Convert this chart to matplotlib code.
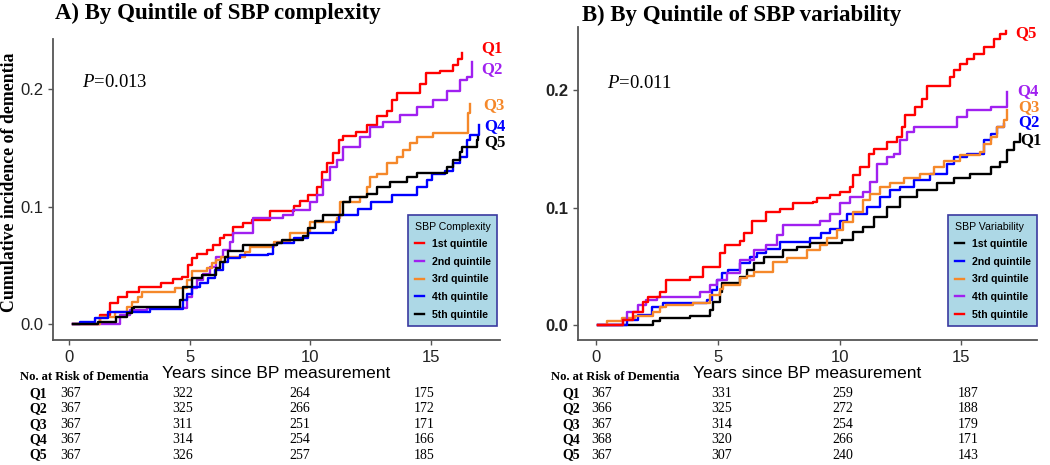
import matplotlib
matplotlib.use("Agg")
import matplotlib.pyplot as plt
import matplotlib.transforms as mtransforms

plt.rcParams["mathtext.fontset"] = "custom"
plt.rcParams["mathtext.rm"] = "Liberation Serif"
plt.rcParams["mathtext.it"] = "Liberation Serif:italic"

# ---- Panel A: quintiles of SBP complexity (cumulative incidence step curves)
a_q1_t = [0.15, 1.27, 1.68, 2.0, 2.4, 2.9, 3.8, 4.3, 4.65, 4.9, 5.1, 5.3, 5.7, 5.96, 6.25, 6.4, 6.8, 7.2, 7.56,
          8.3, 9.3, 9.56, 9.9, 10.25, 10.46, 10.67, 10.93, 11.2, 11.36, 11.9, 12.33, 12.75, 13.16, 13.4, 13.58,
          14.55, 14.8, 15.37, 15.9, 16.13, 16.27]
a_q1_y = [0, 0.008, 0.018, 0.023, 0.0275, 0.032, 0.035, 0.038, 0.040, 0.050, 0.056, 0.060, 0.063, 0.067, 0.073,
          0.076, 0.083, 0.086, 0.089, 0.096, 0.101, 0.105, 0.110, 0.117, 0.130, 0.137, 0.146, 0.157, 0.160, 0.164,
          0.170, 0.177, 0.182, 0.191, 0.197, 0.205, 0.214, 0.216, 0.221, 0.226, 0.231]
a_q2_t = [0.15, 2.1, 2.5, 3.2, 4.86, 5.07, 5.28, 5.55, 5.83, 6.1, 6.38, 6.66, 6.8, 7.63, 8.87, 9.29, 9.98, 10.26,
          10.53, 10.8, 11.09, 11.36, 12.05, 12.47, 13.02, 13.7, 14.4, 15.1, 15.65, 16.2, 16.48, 16.69]
a_q2_y = [0, 0.0077, 0.012, 0.014, 0.023, 0.0305, 0.0375, 0.043, 0.049, 0.057, 0.063, 0.070, 0.078, 0.090, 0.093,
          0.097, 0.104, 0.110, 0.1226, 0.134, 0.140, 0.151, 0.1595, 0.168, 0.172, 0.178, 0.185, 0.191, 0.199,
          0.208, 0.211, 0.223]
a_q3_t = [0.15, 1.27, 1.88, 2.37, 2.6, 2.86, 3.0, 4.38, 4.86, 5.07, 5.69, 5.9, 6.1, 6.3, 7.28, 7.5, 8.5, 9.15,
          9.98, 11.09, 11.22, 12.05, 12.33, 12.47, 12.75, 13.16, 13.58, 13.85, 14.13, 14.4, 15.1, 16.55, 16.62]
a_q3_y = [0, 0.006, 0.0105, 0.0147, 0.019, 0.023, 0.027, 0.0304, 0.0375, 0.0454, 0.0474, 0.0517, 0.0545, 0.057,
          0.0616, 0.066, 0.070, 0.078, 0.087, 0.090, 0.104, 0.1085, 0.117, 0.125, 0.128, 0.137, 0.1425, 0.148,
          0.154, 0.1595, 0.163, 0.1795, 0.188]
a_q4_t = [0.15, 0.44, 1.06, 1.6, 3.34, 4.7, 4.86, 5.07, 5.42, 5.76, 6.04, 6.38, 6.59, 7.07, 8.25, 8.46, 8.6, 9.3,
          9.9, 10.95, 11.05, 11.2, 11.98, 12.5, 13.37, 14.4, 14.82, 15.03, 15.58, 15.93, 16.2, 16.48, 16.62, 16.98]
a_q4_y = [0, 0.002, 0.005, 0.0105, 0.013, 0.0204, 0.026, 0.032, 0.0347, 0.039, 0.046, 0.053, 0.056, 0.0585,
          0.060, 0.067, 0.0687, 0.073, 0.0773, 0.080, 0.087, 0.093, 0.0985, 0.104, 0.110, 0.117, 0.1227, 0.128,
          0.1305, 0.137, 0.1425, 0.157, 0.161, 0.1695]
a_q5_t = [0.15, 1.2, 1.95, 2.37, 2.58, 2.7, 4.59, 4.7, 5.07, 5.5, 6.1, 6.25, 6.45, 6.59, 7.2, 8.6, 8.8, 9.7, 9.9,
          10.2, 10.53, 11.36, 11.64, 12.33, 12.75, 13.3, 14.0, 14.4, 15.65, 15.93, 16.2, 16.27, 16.9, 16.96]
a_q5_y = [0, 0.002, 0.006, 0.009, 0.0134, 0.0147, 0.0204, 0.032, 0.039, 0.042, 0.0474, 0.053, 0.057, 0.0624,
          0.067, 0.0687, 0.0716, 0.075, 0.082, 0.088, 0.0928, 0.104, 0.1085, 0.111, 0.117, 0.121, 0.1255, 0.129,
          0.134, 0.1397, 0.1468, 0.151, 0.157, 0.1595]

# ---- Panel B: quintiles of SBP variability
b_q1_t = [0.1, 2.36, 2.63, 3.86, 4.69, 4.82, 5.1, 5.17, 5.92, 6.2, 6.47, 6.88, 7.7, 8.25, 8.8, 10.1, 10.57,
          10.98, 11.4, 11.95, 12.5, 13.18, 14.0, 14.7, 15.37, 16.2, 16.6, 16.88, 17.15, 17.4]
b_q1_y = [0, 0.003, 0.0057, 0.0077, 0.0128, 0.0198, 0.028, 0.0355, 0.041, 0.0468, 0.0525, 0.058, 0.0638, 0.0666,
          0.0695, 0.0723, 0.079, 0.0837, 0.092, 0.1006, 0.109, 0.115, 0.1206, 0.125, 0.129, 0.1347, 0.139, 0.149,
          0.156, 0.163]
b_q2_t = [0.1, 1.26, 1.74, 2.29, 2.77, 4.55, 4.76, 4.96, 5.17, 5.44, 5.92, 6.33, 6.6, 7.0, 7.56, 8.8, 9.25, 9.6,
          10.03, 10.3, 11.13, 11.67, 12.08, 12.5, 13.04, 13.73, 14.41, 14.69, 15.23, 15.92, 16.2, 16.47, 16.75]
b_q2_y = [0, 0.004, 0.0085, 0.0156, 0.0185, 0.0213, 0.0298, 0.038, 0.044, 0.047, 0.0525, 0.058, 0.061, 0.065,
          0.071, 0.074, 0.078, 0.082, 0.089, 0.095, 0.1006, 0.109, 0.115, 0.1177, 0.1234, 0.129, 0.1376, 0.143,
          0.146, 0.1574, 0.163, 0.169, 0.171]
b_q3_t = [0.1, 0.44, 1.06, 1.6, 2.36, 2.63, 2.9, 4.0, 4.69, 5.1, 5.23, 5.92, 6.2, 6.47, 7.29, 7.84, 8.66, 9.2,
          9.48, 9.9, 10.16, 10.57, 10.98, 11.26, 11.67, 12.08, 12.63, 13.3, 13.86, 14.27, 14.96, 15.78, 15.92,
          16.2, 16.47, 16.74, 16.88]
b_q3_y = [0, 0.003, 0.0057, 0.008, 0.011, 0.015, 0.017, 0.019, 0.0255, 0.031, 0.034, 0.0397, 0.042, 0.0454,
          0.054, 0.057, 0.0638, 0.068, 0.074, 0.081, 0.088, 0.0964, 0.1064, 0.112, 0.1177, 0.1206, 0.125, 0.129,
          0.1347, 0.140, 0.1447, 0.1475, 0.1546, 0.160, 0.169, 0.1745, 0.183]
b_q4_t = [0.1, 1.12, 1.26, 1.74, 2.08, 2.5, 4.27, 4.69, 4.96, 5.37, 5.92, 6.47, 7.0, 7.43, 7.7, 9.2, 9.6, 10.03,
          10.44, 10.98, 11.26, 11.54, 11.95, 12.22, 12.5, 12.77, 13.04, 14.83, 15.23, 16.2, 16.88]
b_q4_y = [0, 0.004, 0.011, 0.017, 0.0213, 0.024, 0.028, 0.034, 0.038, 0.044, 0.0553, 0.0638, 0.068, 0.0766,
          0.085, 0.089, 0.095, 0.1036, 0.109, 0.1134, 0.122, 0.1376, 0.143, 0.146, 0.1574, 0.1645, 0.169, 0.177,
          0.183, 0.186, 0.1986]
b_q5_t = [0.08, 1.12, 1.53, 1.95, 2.15, 2.63, 2.9, 3.86, 4.41, 5.1, 5.3, 5.92, 6.1, 6.4, 7.0, 7.56, 8.1, 8.93,
          9.07, 9.6, 10.03, 10.44, 10.57, 10.85, 11.2, 11.4, 11.95, 12.36, 12.56, 12.7, 13.1, 13.39, 13.6, 14.55,
          14.7, 14.96, 15.23, 15.5, 15.92, 16.33, 16.6, 16.81]
b_q5_y = [0, 0.004, 0.011, 0.0198, 0.024, 0.028, 0.038, 0.041, 0.0496, 0.061, 0.068, 0.072, 0.078, 0.089,
          0.0964, 0.099, 0.1036, 0.105, 0.108, 0.1106, 0.113, 0.1177, 0.1277, 0.1347, 0.146, 0.150, 0.156, 0.160,
          0.169, 0.1787, 0.186, 0.193, 0.204, 0.211, 0.217, 0.2227, 0.227, 0.2312, 0.237, 0.244, 0.248, 0.251]

legend_labels = ["1st quintile", "2nd quintile", "3rd quintile", "4th quintile", "5th quintile"]
quintile_names = ["Q1", "Q2", "Q3", "Q4", "Q5"]
a_risk = [[367, 322, 264, 175], [367, 325, 266, 172], [367, 311, 251, 171], [367, 314, 254, 166],
          [367, 326, 257, 185]]
b_risk = [[367, 331, 259, 187], [366, 325, 272, 188], [367, 314, 254, 179], [368, 320, 266, 171],
          [367, 307, 240, 143]]

RED, PURPLE, ORANGE, BLUE, BLACK = "#FF0000", "#A020F0", "#F5882A", "#0000FF", "#000000"
SERIF = "Liberation Serif"
SANS = "Liberation Sans"

W, H = 1050, 465
fig = plt.figure(figsize=(W / 100, H / 100), dpi=100)


def fx(px):
    return px / W


def fy(py):
    return 1 - py / H


def setup_axes(ax, xlim, ylim, bold_y):
    ax.set_xlim(*xlim)
    ax.set_ylim(*ylim)
    ax.set_xticks([0, 5, 10, 15])
    ax.set_yticks([0.0, 0.1, 0.2])
    ax.set_yticklabels(["0.0", "0.1", "0.2"])
    for s in ["top", "right"]:
        ax.spines[s].set_visible(False)
    for s in ["left", "bottom"]:
        ax.spines[s].set_color("#555555")
        ax.spines[s].set_linewidth(1.3)
    ax.tick_params(colors="#555555", length=3.5, width=1.0, labelsize=12, labelcolor="#222222")
    for lab in ax.get_xticklabels():
        lab.set_fontfamily(SANS)
    for lab in ax.get_yticklabels():
        lab.set_fontfamily(SANS)
        if bold_y:
            lab.set_fontweight("bold")
    ax.set_xlabel("Years since BP measurement", fontsize=12.5, family=SANS, labelpad=1)


def add_legend(ax, title, anchor):
    leg = ax.legend(title=title, loc="lower right", bbox_to_anchor=anchor, borderaxespad=0,
                    prop={"family": SANS, "weight": "bold", "size": 7.6},
                    title_fontproperties={"family": SANS, "size": 7.6},
                    alignment="left", handlelength=0.9, handletextpad=0.7, labelspacing=0.72,
                    borderpad=0.6, fancybox=False, framealpha=1)
    leg.get_frame().set_facecolor("#ADD8E6")
    leg.get_frame().set_edgecolor("#3A3AA0")
    leg.get_frame().set_linewidth(1.2)


def risk_table(ax, rows, xs):
    trans = mtransforms.blended_transform_factory(ax.transData, fig.transFigure)
    for i, vals in enumerate(rows):
        y = fy(393.5 + i * 15.4)
        for x, v in zip(xs, vals):
            ax.text(x, y, str(v), transform=trans, ha="left", va="center", fontsize=10,
                    family=SERIF, clip_on=False)


def end_labels(ax, xs, ys, colors):
    for n, x, y, c in zip(quintile_names, xs, ys, colors):
        ax.text(x, y, n, color=c, fontsize=12, fontweight="bold", family=SERIF, va="center",
                ha="left", clip_on=False)


# ---------------- Panel A
axA = fig.add_axes([fx(53), fy(340), fx(447), 301 / H])
a_series = [(a_q1_t, a_q1_y), (a_q2_t, a_q2_y), (a_q3_t, a_q3_y), (a_q4_t, a_q4_y), (a_q5_t, a_q5_y)]
a_colors = [RED, PURPLE, ORANGE, BLUE, BLACK]
for (t, y), c, lab in zip(a_series, a_colors, legend_labels):
    axA.plot(t, y, drawstyle="steps-post", color=c, lw=1.7, label=lab)
setup_axes(axA, (-0.68, 17.86), (-0.0136, 0.243), False)
add_legend(axA, "SBP Complexity", (0.993, 0.047))
axA.text(0.52, 0.2055, "$P$=0.013", fontsize=13.5, family=SERIF, va="center", ha="left")
end_labels(axA, [17.07, 17.07, 17.15, 17.2, 17.2], [0.2353, 0.2172, 0.1868, 0.1687, 0.1553], a_colors)
risk_table(axA, a_risk, [-0.365, 4.27, 9.12, 14.27])

# ---------------- Panel B
axB = fig.add_axes([fx(578), fy(340), fx(459), 313 / H])
b_series = [(b_q1_t, b_q1_y), (b_q2_t, b_q2_y), (b_q3_t, b_q3_y), (b_q4_t, b_q4_y), (b_q5_t, b_q5_y)]
b_colors = [BLACK, BLUE, ORANGE, PURPLE, RED]
for (t, y), c, lab in zip(b_series, b_colors, legend_labels):
    axB.plot(t, y, drawstyle="steps-post", color=c, lw=1.7, label=lab)
setup_axes(axB, (-0.73, 18.1), (-0.0128, 0.254), True)
add_legend(axB, "SBP Variability", (1.0, 0.045))
axB.text(0.46, 0.206, "$P$=0.011", fontsize=13.5, family=SERIF, va="center", ha="left")
end_labels(axB, [17.4, 17.35, 17.35, 17.3, 17.2], [0.158, 0.1727, 0.1854, 0.1996, 0.2485], b_colors)
risk_table(axB, b_risk, [-0.18, 4.73, 9.69, 14.85])

# ---------------- titles, y label, risk headers
fig.text(fx(55), fy(13), "A) By Quintile of SBP complexity", fontsize=16.5, fontweight="bold",
         family=SERIF, va="center", ha="left")
fig.text(fx(582), fy(15), "B) By Quintile of SBP variability", fontsize=16.5, fontweight="bold",
         family=SERIF, va="center", ha="left")
fig.text(fx(10), fy(182), "Cumulative incidence of dementia", fontsize=12.8, fontweight="bold",
         family=SERIF, rotation=90, va="center", ha="center")
for hx, lx in [(20, 29), (551, 562)]:
    fig.text(fx(hx), fy(377), "No. at Risk of Dementia", fontsize=9.1, fontweight="bold",
             family=SERIF, va="center", ha="left")
    for i, n in enumerate(quintile_names):
        fig.text(fx(lx), fy(393.5 + i * 15.4), n, fontsize=10, fontweight="bold", family=SERIF,
                 va="center", ha="left")

fig.savefig("out.png", dpi=100)
